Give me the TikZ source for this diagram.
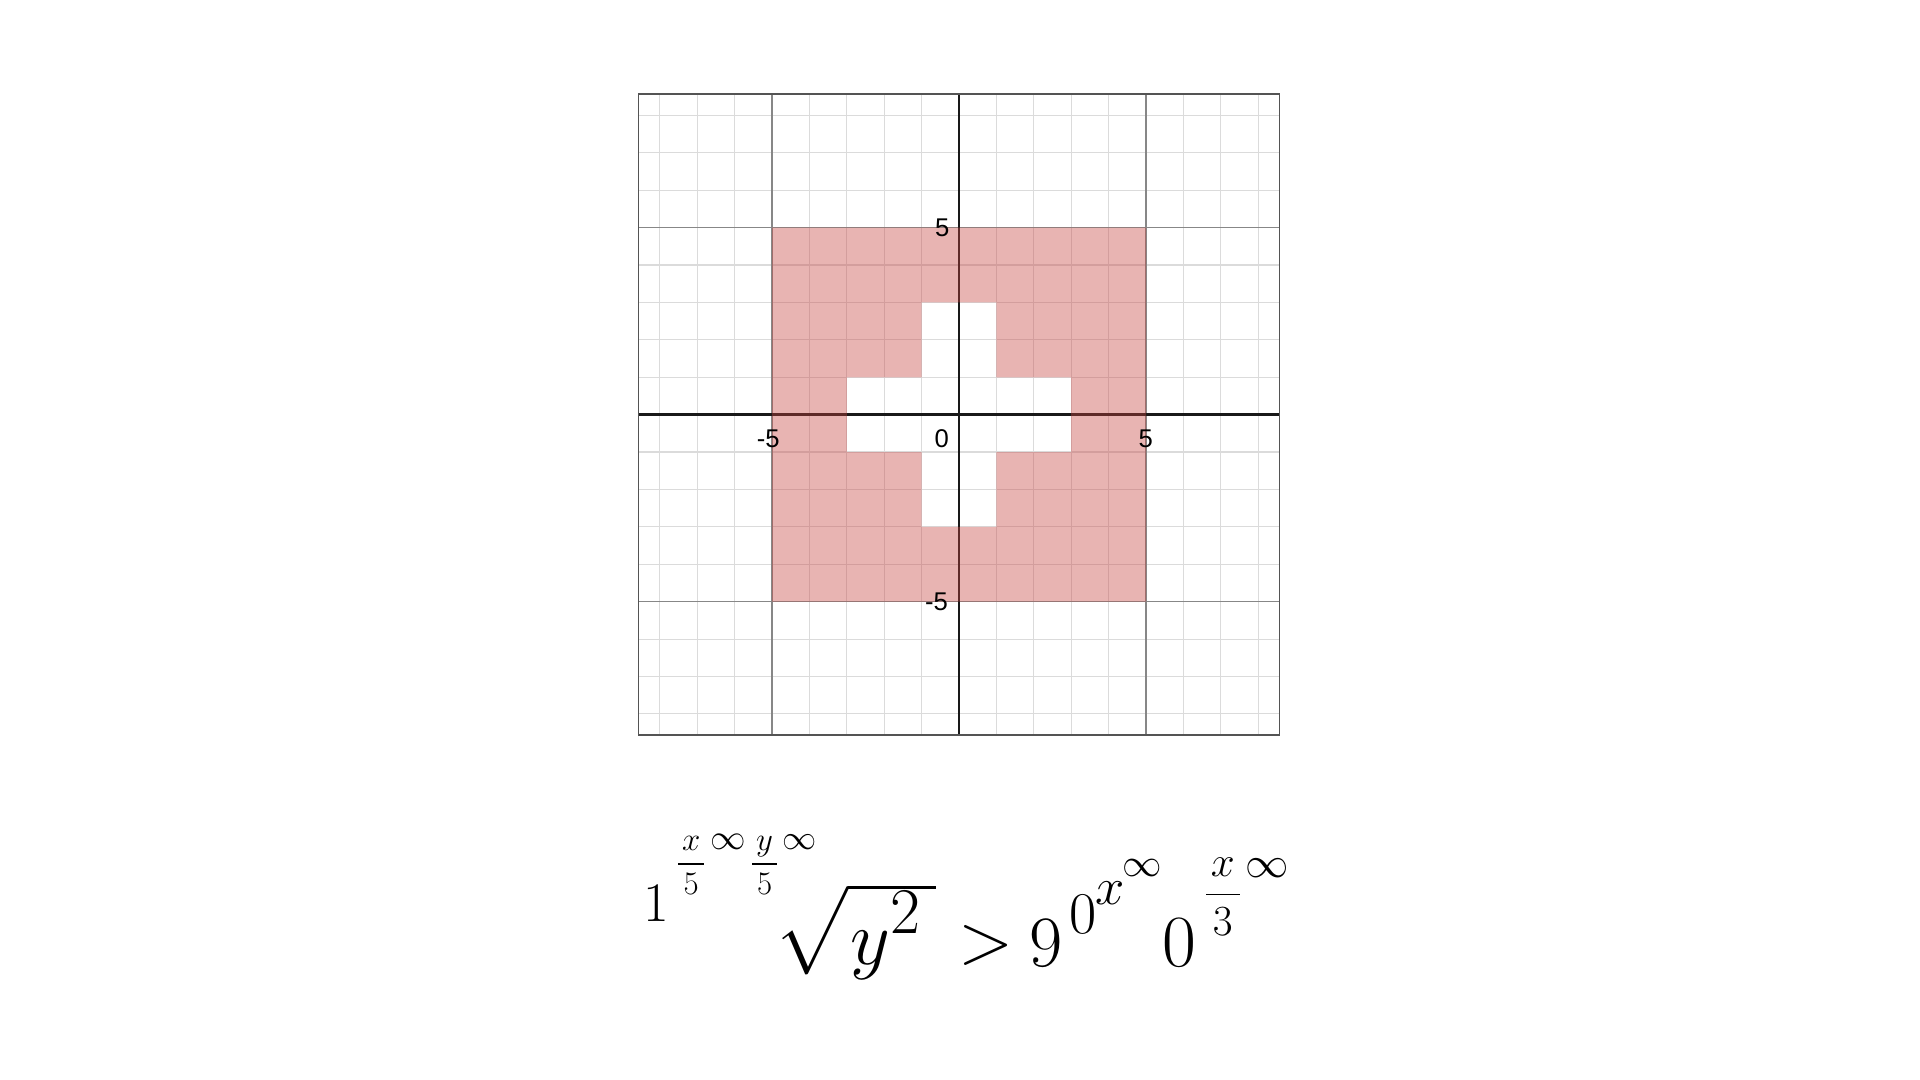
\RequirePackage{fix-cm}
\documentclass[tikz,border=0pt]{standalone}
\usepackage{fontspec}
\setsansfont{Liberation Sans}
\usepackage{amsmath}
\usepackage{graphicx}
\usepackage{xcolor}
\usepackage{tikz}

\definecolor{regred}{HTML}{C74440}
\newcommand\fsz[1]{\fontsize{#1}{#1}\selectfont}

\tikzset{
  minor/.style={draw=black!14, line width=0.9pt},
  major/.style={draw=black!47, line width=1.1pt},
  axis/.style={draw=black!90, line width=2pt},
  frame/.style={draw=black!67, line width=1.4pt},
  region/.style={fill=regred, fill opacity=0.4},
  lbl/.style={font=\sffamily\fsz{19.5}, inner sep=0pt},
  part/.style={inner sep=0pt, anchor=base},
}

\begin{document}
\begin{tikzpicture}
\fill[white] (-25.642,-17.789) rectangle (25.695,11.088);

% grid
\foreach \i in {-8,...,8} {
  \draw[minor] (\i,-8.57) -- (\i,8.57);
  \draw[minor] (-8.57,\i) -- (8.57,\i);
}
\foreach \i in {-5,5} {
  \draw[major] (\i,-8.57) -- (\i,8.57);
  \draw[major] (-8.57,\i) -- (8.57,\i);
}
\draw[axis] (-8.57,0) -- (8.57,0);
\draw[axis] (0,-8.57) -- (0,8.57);
\draw[frame] (-8.57,-8.57) rectangle (8.57,8.57);

% shaded set
\fill[region, even odd rule] (-5,-5) rectangle (5,5)
  (-1,-3) -- (1,-3) -- (1,-1) -- (3,-1) -- (3,1) -- (1,1) -- (1,3)
  -- (-1,3) -- (-1,1) -- (-3,1) -- (-3,-1) -- (-1,-1) -- cycle;

% tick labels
\node[lbl] (xm) at (-5.1,-0.65) {-5};
\node[lbl] (xo) at (-0.46,-0.65) {0};
\node[lbl] (xp) at (4.99,-0.65) {5};
\node[lbl] (yp) at (-0.45,5.0) {5};
\node[lbl] (ym) at (-0.6,-5.0) {-5};

% inequality, placed in pixels
\begin{scope}[shift={(-25.642cm,11.088cm)}, x=0.026738cm, y=-0.026738cm]
\node[part] (one) at (656,922) {\fsz{42.5}$1$};
\node[part] (fxa) at (691.4,872.5) {\fsz{25}$\dfrac{\mkern2mu x\mkern2mu}{5}$};
\node[part] (infa) at (728.8,850) {\fsz{27}$\infty$};
\node[part] (fya) at (764.7,872.5) {\fsz{25}$\dfrac{\mkern2mu y\mkern2mu}{5}$};
\node[part] (infb) at (799.7,850) {\fsz{26}$\infty$};
\node[inner sep=0pt, anchor=north east] (root) at (936.7,883.3)
  {\scalebox{5.6}{\kern-1.2pt$\sqrt{\rule[-0.3em]{0pt}{1em}\kern12pt}$}};
\node[part] (yy) at (870.8,964.8) {\fsz{59}$y$};
\node[part] (two) at (905.8,934) {\fsz{49.6}$2$};
\node[part] (gt) at (985.8,964) {\fsz{55}$>$};
\node[part] (nine) at (1046.7,967) {\fsz{55}$9$};
\node[part] (zsup) at (1083.3,934) {\fsz{45}$0$};
\node[part] (xsup) at (1110,905) {\fsz{40}$x$};
\node[part] (infc) at (1142.5,877) {\fsz{30}$\infty$};
\node[part] (zero) at (1179.2,967) {\fsz{56}$0$};
\node[part] (fxb) at (1223,905.7) {\fsz{32.7}$\dfrac{\mkern2mu x\mkern2mu}{3}$};
\node[part] (infd) at (1267.5,878) {\fsz{33}$\infty$};
\end{scope}
\end{tikzpicture}
\end{document}
